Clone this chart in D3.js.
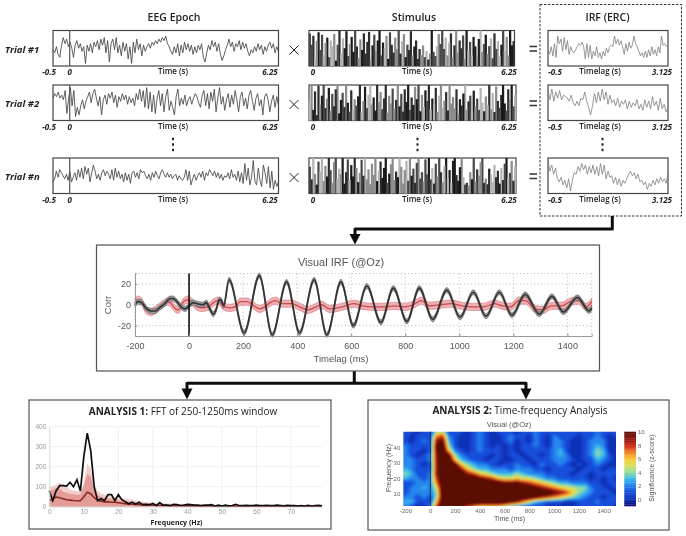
<!DOCTYPE html>
<html>
<head>
<meta charset="utf-8">
<title>IRF analysis overview</title>
<script src="https://cdn.jsdelivr.net/npm/d3@7"></script>
<style>
  body { margin: 0; background: #fff; }
  svg { display: block; }
  text { font-family: "Open Sans", sans-serif; fill: #222; }
  .helv text, text.helv { font-family: "Liberation Sans", sans-serif; }
</style>
</head>
<body>
<div id="chart"></div>
<script>
// values

var trialLabels = ["Trial #1", "Trial #2", "Trial #n"];
var epochTicks = ["-0.5", "0", "6.25"];
var stimTicks = ["0", "6.25"];
var irfTicks = ["-0.5", "3.125"];

// EEG epochs, one sample every 0.05 s from -0.5 s
var eegTrial1 = [-1,-3,1,-4,-6,2,7,3,6,1,4,0,-6,2,5,0,3,-2,1,-10,2,-2,3,-3,4,1,5,-1,6,2,7,-3,5,-9,3,6,-1,7,-3,2,-5,4,-2,3,-7,1,-10,4,-3,6,-1,3,-5,2,-2,1,3,0,4,2,5,3,6,4,7,5,8,3,1,-2,-4,1,-3,3,-5,2,-3,4,-1,3,-2,2,-4,1,-3,2,-1,3,-6,-9,-3,2,-1,5,1,4,-2,3,-4,-8,-5,-1,2,6,1,4,-2,3,1,5,-1,4,0,3,-2,-5,-1,-3,1,-2,3,-1,2,-4,1,-2,2,4,0,3,-3,1,-2];
var eegTrial2 = [3,6,4,7,3,5,2,8,-7,3,10,-2,8,-9,-3,-8,-2,2,-4,1,4,7,0,6,9,3,-2,4,-8,2,5,-1,6,3,7,0,5,-3,4,1,6,2,5,-1,4,0,3,-2,6,2,9,1,8,-3,10,-4,7,-6,5,-7,3,8,-2,6,-6,4,9,-5,1,-3,-8,4,9,-2,3,-1,5,-2,2,4,-1,3,6,4,0,-3,5,8,-2,6,-4,7,1,9,-6,3,10,-1,4,-5,2,6,-3,5,-1,8,2,-6,4,7,-2,3,-4,5,8,1,-5,3,6,-2,2,-8,4,6,2,-6,1,5,-3,4,-2];
var eegTrial3 = [-4,-2,3,-1,4,2,0,-2,1,-3,3,-4,-1,2,-3,4,-1,5,-2,6,1,5,-4,2,7,3,-2,1,-3,2,4,0,3,1,-2,4,-3,5,-1,3,-2,1,-4,2,-3,1,-5,2,3,-1,2,-2,4,2,3,0,-2,1,-3,2,-1,3,0,-2,2,4,1,-1,2,-1,1,-2,0,1,-3,0,-2,-3,-1,4,-3,3,-6,-2,1,-3,0,2,-1,3,-3,2,0,4,2,0,3,-1,2,-2,1,-3,0,-1,2,-2,4,-1,1,-3,3,-4,2,-5,8,-3,5,-6,-1,10,-4,-6,5,-3,-7,7,2,-5,6,-8,3,-9,-3,-7,-4];

// stimulus intensity, percent of box height
var stimTrial1 = [92,60,85,20,70,95,45,88,30,65,80,25,72,55,90,15,60,100,35,78,50,98,28,62,82,40,100,55,22,75,45,92,35,68,96,18,58,88,42,72,100,30,66,50,85,20,95,60,38,80,48,100,35,70,90,25,60,45,98,30,55,72,20,48,30,58,25,42,18,35,100,40,28,55,90,62,100,48,80,30,66,92,24,58,100,38,72,50,86,20,100,44,68,30,82,55,26,76,100,40,62,88,34,56,78,22,92,48,70,28,60,100,42,82,30,100,58,70];
var stimTrial2 = [55,100,30,82,15,98,45,70,100,35,62,92,28,75,40,88,100,20,58,78,38,100,50,25,85,30,60,42,68,100,25,55,95,35,72,100,45,65,28,100,52,80,32,62,100,22,70,48,90,34,58,100,40,75,25,88,52,100,30,65,44,95,60,100,26,72,38,85,55,100,30,62,46,92,24,70,100,36,56,80,28,100,48,66,34,88,20,60,42,76,100,30,54,70,22,84,40,62,30,92,50,26,68,44,100,32,78,24,96,55,36,72,100,48,28,88,60,100,40,72];
var stimTrial3 = [75,40,100,55,25,90,62,100,35,78,48,100,66,30,88,100,42,70,55,100,28,60,96,38,80,48,100,72,32,58,95,50,100,40,68,26,84,52,100,35,64,90,44,72,100,30,56,82,100,38,62,46,100,75,28,66,92,36,100,50,70,30,86,100,42,60,34,96,54,100,40,72,28,84,48,100,60,32,78,100,44,66,30,92,100,52,36,74,100,46,25,30,22,60,40,100,34,68,50,88,100,30,42,26,70,54,32,80,46,64,28,72,38,84,100,44,58,92,36,76];

// IRF per trial, one sample every 0.05 s from -0.5 s
var irfTrial1 = [-1,-4,1,-5,3,-6,8,3,6,-2,7,-1,5,-4,1,-2,-3,-1,1,3,2,4,1,-7,3,-6,2,-7,-2,-5,1,-6,-3,-7,-2,-5,0,-3,1,2,1,8,3,6,2,5,1,-4,3,-2,4,0,2,8,3,1,-2,-5,-3,-6,-2,-6,-1,-5,1,-4,-1,-5,1,-3,8,2,3,1,2];
var irfTrial2 = [8,2,9,1,7,3,8,2,5,4,3,1,5,0,-2,1,-2,3,2,7,1,-3,-8,-2,6,0,7,1,9,2,7,-1,5,0,2,-2,3,-3,1,-1,2,-4,1,-3,0,-2,2,-4,-1,-5,2,-3,1,-4,4,-2,1,-5,3,-4,-1,-6,-3];
var irfTrial3 = [10,3,7,1,5,-2,-4,-1,-6,-3,-8,-2,-10,-3,2,1,6,3,8,4,7,1,6,2,7,1,6,0,8,1,7,-2,3,-1,0,-5,-1,-6,-2,-7,-3,-5,-2,1,3,0,2,-2,1,-4,-3,-6,-4,-9,-5,-7,-3,-6,-2,-5,-1,-4,-2,-5,2];

// Visual IRF: extrema of the two mean traces
var irfBlackT = [-200,-190,-175,-160,-140,-125,-110,-90,-70,-60,-45,-25,-15,0,15,30,50,65,75,90,100,112,120,128,148,204,260,308,361,409,463,510,562,608,658,710,756,806,852,902,954,1003,1052,1099,1148,1195,1244,1296,1343,1385,1437,1481,1490];
var irfBlackV = [0,3,2,-3,-6,-6,-3,1,6,6,3,-3,-4,-1,2,1,0,2,-3,-9,-5,5,4,-1,24,-27,28,-29,22,-27,24,-29,22,-20,18,-17,16,-16,16,-14,14,-12,12,-11,12,-10,10,-9,8,-7,7,-6,-3];
var irfRedT = [-200,-190,-175,-160,-140,-125,-100,-80,-70,-50,-40,-20,-5,10,25,45,70,90,105,125,150,170,190,215,240,260,280,300,320,345,380,410,440,470,490,520,550,580,610,640,680,720,760,800,830,860,890,930,970,1010,1050,1090,1130,1160,1190,1220,1245,1280,1310,1340,1380,1410,1440,1470,1490];
var irfRedV = [3,5,3,-5,-7,-5,0,3,2,-4,-5,3,5,3,-1,-3,-2,2,4,-1,-3,-2,3,3,-1,-4,-2,2,4,1,1,-2,-5,-2,0,-4,-3,-1,1,-1,-2,-2,-1,-2,0,4,-1,0,1,-1,-2,-2,1,-1,-2,4,4,-4,-5,-1,-1,3,4,-2,3];
var irfBlackSem = 2.5;
var irfRedSem = 3.5;
var irfXTicks = [-200,0,200,400,600,800,1000,1200,1400];
var irfYTicks = [-20,0,20];

// FFT, one value per Hz from 0 Hz
var fftBlack = [80,30,80,105,105,103,122,100,135,78,250,368,280,100,30,40,30,60,60,30,60,35,25,15,22,12,22,10,12,10,16,5,20,8,8,5,12,10,6,8,12,10,8,8,5,8,8,10,3,8,3,8,4,6,12,6,5,7,5,6,8,5,6,7,5,6,8,6,4,7,5,6,3,6,3,7,3,6,7,4];
var fftMean = [30,40,48,45,40,35,33,31,30,30,50,72,65,45,32,28,24,24,22,22,20,17,15,13,12,11,10,9,8,8,7,7,6,6,6,5,5,5,5,5,4,4,4,4,4,4,4,3,3,3,3,3,3,3,3,3,3,3,3,3,3,3,3,3,3,3,3,3,3,3,3,3,3,3,3,3,3,3,3,3];
var fftInner = [80,85,95,90,75,70,65,62,60,60,105,165,150,85,60,50,45,42,38,35,32,30,28,26,24,22,20,18,16,15,14,14,13,12,12,11,11,10,10,10,9,9,8,8,7,7,6,6,6,6,6,6,5,5,5,5,5,5,5,5,5,5,5,5,5,5,5,5,5,4,4,4,4,4,4,4,4,4,4,4];
var fftOuter = [100,102,110,118,112,105,85,80,78,75,120,215,190,110,80,65,60,55,50,48,45,43,40,38,35,32,28,25,23,21,20,19,18,17,16,16,15,14,14,14,13,13,12,11,10,9,8,8,8,8,8,7,7,7,7,7,7,7,7,7,6,6,6,6,6,6,6,6,6,6,5,5,5,5,5,5,5,5,5,5];
var fftXTicks = [0,10,20,30,40,50,60,70];
var fftYTicks = [0,100,200,300,400];

// Time-frequency map, rows top to bottom from 50 Hz to 2 Hz in steps of 3 Hz,
// columns from -200 ms to 1500 ms in steps of 50 ms
var tfRows = [
  [1,1,0,1,1,4,5,1,1,1,0,1,2,1,0,1,1,1,0,1,1,2,1,1,1,1,1,1,1,1,1,2,1,1,1],
  [1,0,1,1,1,7,8,2,1,0,0,1,2,1,0,0,1,2,1,1,0,2,1,0,2,1,1,1,0,1,1,2,1,0,1],
  [1,0,1,2,1,9,10,3,1,0,0,1,2,1,0,0,1,2,0,1,0,2,1,0,2,2,1,0,0,1,2,2,2,0,0],
  [2,1,1,1,1,10,11,4,1,0,0,1,2,1,0,1,0,1,0,1,1,2,1,0,2,2,1,0,0,1,2,3,2,0,0],
  [2,1,1,0,1,10,11,6,2,1,0,1,2,1,1,1,0,1,0,1,1,1,1,1,2,3,1,0,0,1,2,4,3,0,0],
  [2,1,0,1,2,9,11,10,4,2,1,1,1,1,0,1,0,1,1,0,1,1,0,1,2,3,2,0,0,1,2,4,3,1,0],
  [2,2,1,1,2,9,11,11,6,3,2,1,1,0,1,1,0,0,1,1,0,1,1,1,2,2,2,1,0,1,1,3,2,1,0],
  [2,2,1,0,1,9,11,11,10,6,4,3,2,2,1,0,1,1,2,1,1,0,2,1,1,2,1,0,1,0,1,2,1,0,0],
  [3,2,1,1,1,9,11,11,11,9,6,4,3,3,2,2,2,1,2,2,2,1,1,0,1,1,1,1,0,1,1,1,0,1,1],
  [4,3,1,1,2,9,11,11,11,11,9,8,6,5,4,3,3,3,4,3,2,2,2,1,1,1,1,0,1,1,0,1,1,1,1],
  [3,2,2,1,2,8,11,11,11,11,11,11,10,9,8,6,5,5,6,5,5,4,3,2,2,1,1,1,1,1,0,1,0,1,0],
  [1,1,2,2,2,7,11,11,11,11,11,11,11,11,11,11,10,10,10,9,8,7,6,5,4,3,3,2,2,2,1,1,0,1,1],
  [1,2,2,3,2,5,11,11,11,11,11,11,11,11,11,11,11,11,11,11,11,10,9,8,7,6,5,5,4,4,2,1,1,0,1],
  [1,2,2,2,2,4,11,11,11,11,11,11,11,11,11,11,11,11,11,11,11,11,11,11,10,9,8,6,4,3,2,1,1,1,0],
  [2,2,1,2,1,4,11,11,11,11,11,11,11,11,11,11,11,11,11,11,11,10,9,8,7,6,5,4,3,2,1,1,0,1,1],
  [3,3,1,1,1,6,11,11,11,11,11,11,11,11,11,11,11,10,9,7,5,3,2,1,1,1,0,0,1,1,1,2,1,1,1],
  [2,1,0,0,2,8,11,11,11,10,8,7,6,6,6,6,5,3,2,1,1,1,1,0,0,0,0,0,1,1,1,1,1,1,0]
];
var tfTimes = d3.range(-200, 1501, 50);
var tfFreqs = [50,47,44,41,38,35,32,29,26,23,20,17,14,11,8,5,2];
var tfXTicks = [-200,0,200,400,600,800,1000,1200,1400];
var tfYTicks = [10,20,30,40];
var cbarTicks = [0,2,4,6,8,10];
var jetStops = [-1,0,1,2,3,4,5,6,7,8,9,10];
var jetColors = ["#0c0c78","#1030b0","#1648d8","#2480ec","#38b8f0","#90dca0","#d8e060","#f8c838","#f08028","#c82818","#8a1a0c","#5a1006"];

// ------------------------------------------------------------------
var svgwidth = 686;
var svgheight = 536;

var svgRoot = d3.select("#chart").append("svg")
  .attr("width", svgwidth)
  .attr("height", svgheight);

var defs = svgRoot.append("defs");
defs.append("filter").attr("id", "soft").append("feGaussianBlur").attr("stdDeviation", 0.45);
defs.append("filter").attr("id", "softer").attr("x", "-5%").attr("y", "-5%").attr("width", "110%").attr("height", "110%")
  .append("feGaussianBlur").attr("stdDeviation", 0.9);
// the whole picture is a little soft
defs.append("filter").attr("id", "whole")
  .attr("filterUnits", "userSpaceOnUse")
  .attr("x", 0).attr("y", 0).attr("width", svgwidth).attr("height", svgheight)
  .append("feGaussianBlur").attr("stdDeviation", 0.3);

var svg = svgRoot.append("g").attr("filter", "url(#whole)");

function plainNumber(d) { return String(d); }

function label(g, x, y, str, size, weight, anchor, style, color) {
  return g.append("text")
    .attr("x", x).attr("y", y)
    .attr("text-anchor", anchor || "middle")
    .attr("font-size", size)
    .attr("font-weight", weight || 400)
    .attr("font-style", style || "normal")
    .style("fill", color || "#222")
    .text(str);
}

function box(g, x0, y0, x1, y1, color) {
  return g.append("rect")
    .attr("x", x0).attr("y", y0)
    .attr("width", x1 - x0).attr("height", y1 - y0)
    .attr("fill", "#fff")
    .attr("stroke", color || "#555")
    .attr("stroke-width", 1.2);
}

// top row: trials
var rowTop = [30.5, 85, 158];
var rowH = 35.5;
var top3 = svg.append("g");

label(top3, 174, 21, "EEG Epoch", 10.5, 600);
label(top3, 414, 21, "Stimulus", 10.5, 600);

// dashed box goes first so the IRF panels sit on it
top3.append("rect")
  .attr("x", 540).attr("y", 4.5).attr("width", 141.5).attr("height", 211.5)
  .attr("fill", "none").attr("stroke", "#333").attr("stroke-dasharray", "2.5,1.5");
label(top3, 607.5, 21, "IRF (ERC)", 10.5, 600);

var eegX = d3.scaleLinear().domain([-0.5, 6.25]).range([53, 278.5]);
var irfX = d3.scaleLinear().domain([-0.5, 3.125]).range([548, 668]);
var traceY = d3.scaleLinear().domain([-11, 11]);

function drawTrace(g, values, xStart, xStep, xs, top, color, w) {
  traceY.range([top + rowH - 1, top + 1]);
  var line = d3.line()
    .x(function (d, i) { return xs(xStart + i * xStep); })
    .y(function (d) { return traceY(d); });
  g.append("path").datum(values)
    .attr("d", line)
    .attr("fill", "none")
    .attr("stroke", color)
    .attr("stroke-width", w);
}

var eegData = [eegTrial1, eegTrial2, eegTrial3];
var stimData = [stimTrial1, stimTrial2, stimTrial3];
var irfData = [irfTrial1, irfTrial2, irfTrial3];
var stimRight = [514.5, 516, 516];
var stimShades = d3.scaleOrdinal().domain([0,1,2,3,4]).range(["#1a1a1a","#b4b4b4","#4a4a4a","#8c8c8c","#2e2e2e"]);

rowTop.forEach(function (top, r) {
  var g = top3.append("g");
  var baseY = top + rowH;
  var tickY = baseY + 9;

  // EEG
  box(g, 53, top, 278.5, baseY, "#444");
  var step = 6.75 / (eegData[r].length - 1);
  drawTrace(g, eegData[r], -0.5, step, eegX, top, "#444", 0.85);
  g.append("line")
    .attr("x1", eegX(0)).attr("x2", eegX(0))
    .attr("y1", top).attr("y2", baseY)
    .attr("stroke", "#555").attr("stroke-width", 1.2);
  label(g, 5, top + 22, trialLabels[r], 9.5, 700, "start", "italic");
  label(g, 49, tickY, epochTicks[0], 8, 700, "middle", "italic");
  label(g, eegX(0), tickY, epochTicks[1], 8, 700, "middle", "italic");
  label(g, 173, tickY - 1, "Time (s)", 8, 600);
  label(g, 270, tickY, epochTicks[2], 8, 700, "middle", "italic");

  // multiply sign
  var mx = 294, my = top + 19.5;
  g.append("path")
    .attr("d", "M" + (mx - 4.5) + "," + (my - 4.5) + "L" + (mx + 4.5) + "," + (my + 4.5) +
               "M" + (mx + 4.5) + "," + (my - 4.5) + "L" + (mx - 4.5) + "," + (my + 4.5))
    .attr("stroke", "#222").attr("stroke-width", 1).attr("fill", "none");

  // stimulus bars, tall ones first so the shorter dark ones sit on top of them
  var stimX = d3.scaleBand().domain(d3.range(stimData[r].length)).range([309, stimRight[r]]);
  var stimY = d3.scaleLinear().domain([0, 100]).range([baseY, top]);
  var bars = stimData[r].map(function (d, i) { return { v: d, i: i }; })
    .sort(function (a, b) { return b.v - a.v; });
  box(g, 309, top, stimRight[r], baseY, "#444");
  g.append("g")
    .selectAll("rect").data(bars).join("rect")
    .attr("x", function (d) { return stimX(d.i) - 0.25; })
    .attr("y", function (d) { return stimY(d.v); })
    .attr("width", stimX.bandwidth() + 0.5)
    .attr("height", function (d) { return baseY - stimY(d.v); })
    .attr("fill", function (d) { return stimShades((d.v + d.i * 2 + r) % 5); });
  label(g, 313, tickY, stimTicks[0], 8, 700, "middle", "italic");
  label(g, 417, tickY - 1, "Time (s)", 8, 600);
  label(g, 509, tickY, stimTicks[1], 8, 700, "middle", "italic");

  // equals sign
  g.append("path")
    .attr("d", "M529.5," + (top + 16) + "H537M529.5," + (top + 20.5) + "H537")
    .attr("stroke", "#333").attr("stroke-width", 1.6);

  // IRF
  box(g, 548, top, 668, baseY, "#444");
  var irfStep = 3.625 / (irfData[r].length - 1);
  drawTrace(g, irfData[r], -0.5, irfStep, irfX, top, "#777", 0.75);
  label(g, 555, tickY, irfTicks[0], 8, 700, "middle", "italic");
  label(g, 600, tickY - 1, "Timelag (s)", 8, 600);
  label(g, 662, tickY, irfTicks[1], 8, 700, "middle", "italic");
});

// vertical dots between trial 2 and n
[173, 417.5, 602.5].forEach(function (x) {
  [139, 144.5, 150].forEach(function (y) {
    top3.append("rect").attr("x", x - 1).attr("y", y - 1.2)
      .attr("width", 2).attr("height", 2.4).attr("fill", "#222");
  });
});

// arrows
var arrows = svg.append("g");
function elbow(points) {
  arrows.append("path")
    .attr("d", d3.line()(points))
    .attr("fill", "none").attr("stroke", "#111").attr("stroke-width", 3)
    .attr("stroke-linejoin", "round");
}
function head(x, y0, y1) {
  arrows.append("path")
    .attr("d", d3.line()([[x - 5.5, y0], [x + 5.5, y0], [x, y1]]))
    .attr("fill", "#111");
}
elbow([[612.3, 216], [612.3, 229], [355, 229], [355, 236]]);
head(355, 234, 244.5);
elbow([[354.3, 371], [354.3, 383.3]]);
elbow([[187, 390], [187, 383.3], [526, 383.3], [526, 390]]);
head(187, 388.5, 399.5);
head(526, 388.5, 399.5);

// Visual IRF panel
var mid = svg.append("g").attr("class", "helv");
box(mid, 96.5, 245, 599.5, 371, "#555");
label(mid, 341, 266, "Visual IRF (@Oz)", 11, 400, "middle", null, "#555");

var x = d3.scaleLinear().domain([-200, 1490]).range([135, 591.7]);
var y = d3.scaleLinear().domain([-30, 30]).range([336, 273.5]);

var grid = mid.append("g")
  .attr("stroke", "#aaa").attr("stroke-width", 0.8).attr("stroke-dasharray", "1,2.5").attr("fill", "none");
irfYTicks.concat([30]).forEach(function (v) {
  grid.append("line").attr("x1", x.range()[0]).attr("x2", x.range()[1]).attr("y1", y(v)).attr("y2", y(v));
});
irfXTicks.concat([1490]).forEach(function (v) {
  grid.append("line").attr("x1", x(v)).attr("x2", x(v)).attr("y1", y(30)).attr("y2", y(-30));
});

function addBand(g, times, values, sem, fill, stroke, w) {
  var pts = times.map(function (t, i) { return { t: t, v: values[i] }; });
  var area = d3.area()
    .curve(d3.curveMonotoneX)
    .x(function (d) { return x(d.t); })
    .y0(function (d) { return y(d.v - sem); })
    .y1(function (d) { return y(d.v + sem); });
  var line = d3.line()
    .curve(d3.curveMonotoneX)
    .x(function (d) { return x(d.t); })
    .y(function (d) { return y(d.v); });
  var s = g.append("g").attr("filter", "url(#soft)");
  s.append("path").datum(pts).attr("d", area).attr("fill", fill)
    .attr("stroke", stroke).attr("stroke-width", 0.4);
  s.append("path").datum(pts).attr("d", line).attr("fill", "none")
    .attr("stroke", stroke).attr("stroke-width", w);
}
addBand(mid, irfRedT, irfRedV, irfRedSem, "#eeb0b2", "#cc4a50", 1.3);
addBand(mid, irfBlackT, irfBlackV, irfBlackSem, "#9a9a9a", "#333", 1.7);

mid.append("line").attr("x1", x(0)).attr("x2", x(0)).attr("y1", y(30)).attr("y2", y(-30))
  .attr("stroke", "#111").attr("stroke-width", 1.6);

var axB = mid.append("g").attr("transform", "translate(0," + y(-30) + ")")
  .call(d3.axisBottom(x).tickValues(irfXTicks).tickFormat(plainNumber).tickSize(-2).tickPadding(7));
var axL = mid.append("g").attr("transform", "translate(" + x(-200) + ",0)")
  .call(d3.axisLeft(y).tickValues(irfYTicks).tickFormat(plainNumber).tickSize(-2).tickPadding(4));
[axB, axL].forEach(function (a) {
  a.selectAll("text").attr("font-size", 9).style("fill", "#555").style("font-family", '"Liberation Sans", sans-serif');
  a.selectAll("line").attr("stroke", "#888");
  a.select(".domain").attr("stroke", "#999");
});
label(mid, 341, 362, "Timelag (ms)", 9.5, 400, "middle", null, "#555");
label(mid, 0, 0, "Corr", 9.5, 400, "middle", null, "#555")
  .attr("transform", "translate(111,305) rotate(-90)");

// Analysis 1: FFT
var an1 = svg.append("g");
box(an1, 29, 400, 331, 529, "#555");
var t1 = label(an1, 183, 415, "", 10);
t1.append("tspan").attr("font-weight", 700).text("ANALYSIS 1:");
t1.append("tspan").text(" FFT of 250-1250ms window");

var fx = d3.scaleLinear().domain([0, 79]).range([49.3, 322]);
var fy = d3.scaleLinear().domain([0, 400]).range([506.7, 426.7]);

fftYTicks.forEach(function (v) {
  an1.append("line").attr("x1", fx(0)).attr("x2", fx(79)).attr("y1", fy(v)).attr("y2", fy(v)).attr("stroke", "#f0f0f0");
});
fftXTicks.forEach(function (v) {
  an1.append("line").attr("x1", fx(v)).attr("x2", fx(v)).attr("y1", fy(0)).attr("y2", fy(400)).attr("stroke", "#f0f0f0");
});

function fftArea(values, fill) {
  an1.append("path").datum(values)
    .attr("d", d3.area()
      .x(function (d, i) { return fx(i); })
      .y0(fy(0))
      .y1(function (d) { return fy(d); }))
    .attr("fill", fill);
}
function fftLine(values, color, w) {
  an1.append("path").datum(values)
    .attr("d", d3.line()
      .x(function (d, i) { return fx(i); })
      .y(function (d) { return fy(d); }))
    .attr("fill", "none").attr("stroke", color).attr("stroke-width", w);
}
fftArea(fftOuter, "#f2cfcd");
fftArea(fftInner, "#e39c98");
fftLine(fftMean, "#8c2a26", 1.6);
fftLine(fftBlack, "#111", 1.7);

var fAxB = an1.append("g").attr("transform", "translate(0," + fy(0) + ")")
  .call(d3.axisBottom(fx).tickValues(fftXTicks).tickFormat(plainNumber).tickSize(0).tickPadding(3));
var fAxL = an1.append("g").attr("transform", "translate(" + fx(0) + ",0)")
  .call(d3.axisLeft(fy).tickValues(fftYTicks).tickFormat(plainNumber).tickSize(0).tickPadding(3));
[fAxB, fAxL].forEach(function (a) {
  a.select(".domain").attr("stroke", "#ddd");
  a.selectAll("text").attr("font-size", 6.5).style("fill", "#999").style("font-family", '"Liberation Sans", sans-serif');
});
label(an1, 176.5, 525, "Frequency (Hz)", 7, 700);

// Analysis 2: time-frequency
var an2 = svg.append("g");
box(an2, 368, 400, 669, 530, "#555");
var t2 = label(an2, 520, 414, "", 10);
t2.append("tspan").attr("font-weight", 700).text("ANALYSIS 2:");
t2.append("tspan").text(" Time-frequency Analysis");
label(an2, 509, 427, "Visual (@Oz)", 7.5, 400, "middle", null, "#555").attr("class", "helv");

var tx = d3.scaleLinear().domain([-218, 1500]).range([403.3, 616]);
var ty = d3.scaleLinear().domain([2.3, 50]).range([506, 431.7]);
var jet = d3.scaleLinear().domain(jetStops).range(jetColors).clamp(true);

defs.append("clipPath").attr("id", "tfclip").append("rect")
  .attr("x", tx(-218)).attr("y", ty(50))
  .attr("width", tx(1500) - tx(-218)).attr("height", ty(2.3) - ty(50));

var nCols = tfTimes.length, nRows = tfFreqs.length;
var flat = d3.merge(tfRows);
var levels = d3.range(-1.5, 11, 0.25);
var shapes = d3.contours().size([nCols, nRows]).thresholds(levels)(flat);
var gridToPx = d3.geoTransform({
  point: function (cx, cy) {
    this.stream.point(
      tx(tfTimes[0] + (cx - 0.5) * 50),
      ty(tfFreqs[0] - (cy - 0.5) * 3)
    );
  }
});
an2.append("g").attr("clip-path", "url(#tfclip)")
  .append("g").attr("filter", "url(#softer)")
  .selectAll("path").data(shapes).join("path")
  .attr("d", d3.geoPath(gridToPx))
  .attr("fill", function (d) { return jet(d.value + 0.125); });

an2.append("line").attr("x1", tx(0)).attr("x2", tx(0)).attr("y1", ty(50)).attr("y2", ty(2.3))
  .attr("stroke", "#14244a").attr("stroke-width", 0.9);

var tAxB = an2.append("g").attr("transform", "translate(0," + ty(2.3) + ")")
  .call(d3.axisBottom(tx).tickValues(tfXTicks).tickFormat(plainNumber).tickSize(0).tickPadding(2.5));
var tAxL = an2.append("g").attr("transform", "translate(" + tx(-218) + ",0)")
  .call(d3.axisLeft(ty).tickValues(tfYTicks).tickFormat(plainNumber).tickSize(0).tickPadding(3));
[tAxB, tAxL].forEach(function (a) {
  a.select(".domain").attr("stroke", "none");
  a.selectAll("text").attr("font-size", 6).style("fill", "#666").style("font-family", '"Liberation Sans", sans-serif');
});
label(an2, 509.5, 521, "Time (ms)", 7, 400, "middle", null, "#555").attr("class", "helv");
label(an2, 0, 0, "Frequency (Hz)", 7, 400, "middle", null, "#555").attr("class", "helv")
  .attr("transform", "translate(391,468) rotate(-90)");

// colorbar
var cb = d3.scaleLinear().domain([-1, 10]).range([506, 431.7]);
an2.append("g").selectAll("rect").data(d3.range(-1, 10, 0.25)).join("rect")
  .attr("x", 624.3).attr("width", 11.7)
  .attr("y", function (d) { return cb(d + 0.25); })
  .attr("height", function (d) { return cb(d) - cb(d + 0.25) + 0.3; })
  .attr("fill", function (d) { return jet(d + 0.125); });
var cAx = an2.append("g").attr("transform", "translate(636,0)")
  .call(d3.axisRight(cb).tickValues(cbarTicks).tickFormat(plainNumber).tickSize(0).tickPadding(2));
cAx.select(".domain").attr("stroke", "none");
cAx.selectAll("text").attr("font-size", 6).style("fill", "#666").style("font-family", '"Liberation Sans", sans-serif');
label(an2, 0, 0, "Significance (z-score)", 7, 400, "middle", null, "#555").attr("class", "helv")
  .attr("transform", "translate(654,468) rotate(-90)");
</script>
</body>
</html>
